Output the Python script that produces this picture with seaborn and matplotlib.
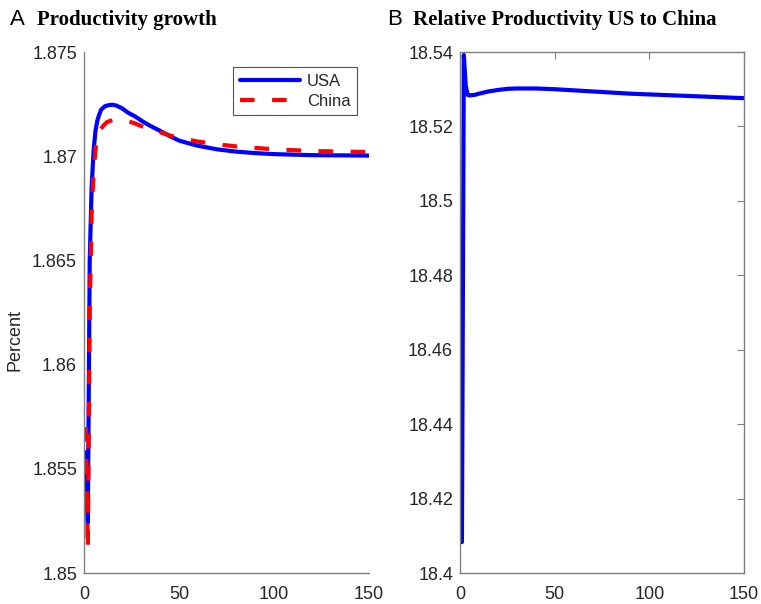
import numpy as np
import pandas as pd
import matplotlib
matplotlib.use("Agg")
import matplotlib.pyplot as plt
import seaborn as sns

# Productivity growth (percent) by period
t_usa = [1, 2, 3, 4, 5, 6, 7, 8, 9, 11, 13, 15, 17, 20, 23, 27, 31, 35, 40, 45,
         50, 55, 60, 70, 80, 90, 100, 120, 150]
usa_growth = [1.8558, 1.8524, 1.8650, 1.8685, 1.8702, 1.8712, 1.8717, 1.8720,
              1.87223, 1.8724, 1.87245, 1.87247, 1.87243, 1.8723, 1.8721,
              1.8719, 1.87166, 1.87145, 1.87122, 1.87097, 1.87075, 1.87062,
              1.8705, 1.87033, 1.87022, 1.87015, 1.8701, 1.87005, 1.87003]

t_china = [1, 2, 3, 4, 5, 6, 7, 8, 10, 12, 15, 18, 22, 26, 30, 35, 40, 45, 50,
           60, 70, 80, 90, 100, 120, 150]
china_growth = [1.8570, 1.8511, 1.8625, 1.8672, 1.8692, 1.8703, 1.8709,
                1.87118, 1.87145, 1.87163, 1.87174, 1.87176, 1.8717, 1.8716,
                1.87145, 1.8713, 1.87115, 1.8710, 1.87088, 1.8707, 1.87057,
                1.87047, 1.8704, 1.87033, 1.87025, 1.8702]

# Relative productivity, US to China
t_rel = [1, 2, 3, 4, 5, 6, 8, 10, 15, 20, 25, 30, 35, 40, 50, 60, 70, 80, 90,
         100, 120, 150]
rel_productivity = [18.4083, 18.5392, 18.5310, 18.5285, 18.5283, 18.5284,
                    18.5285, 18.5288, 18.5294, 18.5298, 18.5301, 18.5302,
                    18.5302, 18.5302, 18.5300, 18.5297, 18.5294, 18.5291,
                    18.5288, 18.5286, 18.5282, 18.5276]

x_ticks = [0, 50, 100, 150]
growth_ticks = [1.85, 1.855, 1.86, 1.865, 1.87, 1.875]
growth_ticklabels = ["1.85", "1.855", "1.86", "1.865", "1.87", "1.875"]
rel_ticks = [18.4, 18.42, 18.44, 18.46, 18.48, 18.5, 18.52, 18.54]
rel_ticklabels = ["18.4", "18.42", "18.44", "18.46", "18.48", "18.5", "18.52", "18.54"]

sns.set_style("white")
plt.rcParams["font.family"] = ["Liberation Sans", "DejaVu Sans"]

BLUE = "#0000ff"
RED = "#ff0000"
AXIS_GRAY = "#808080"
TEXT = "#262626"

fig = plt.figure(figsize=(7.61, 6.04), dpi=100)
axA = fig.add_axes([0.1104, 0.0513, 0.3745, 0.8626])
axB = fig.add_axes([0.6045, 0.0513, 0.3732, 0.8626])

df_usa = pd.DataFrame({"t": t_usa, "v": usa_growth})
df_chn = pd.DataFrame({"t": t_china, "v": china_growth})
df_rel = pd.DataFrame({"t": t_rel, "v": rel_productivity})

sns.lineplot(data=df_usa, x="t", y="v", ax=axA, color=BLUE, lw=3.0, label="USA")
sns.lineplot(data=df_chn, x="t", y="v", ax=axA, color=RED, lw=3.0, label="China",
             linestyle=(0, (3.5, 4.2)), dash_capstyle="butt")
sns.lineplot(data=df_rel, x="t", y="v", ax=axB, color=BLUE, lw=3.0)

for ax in (axA, axB):
    ax.set_xlim(0, 150)
    ax.set_xticks(x_ticks)
    ax.set_xlabel("")
    ax.set_ylabel("")
    for s in ax.spines.values():
        s.set_color(AXIS_GRAY)
        s.set_linewidth(1.0)
    ax.tick_params(direction="in", length=5, width=0.8, color=AXIS_GRAY,
                   labelsize=13, labelcolor=TEXT)
    ax.tick_params(axis="x", pad=9)
    ax.tick_params(axis="y", pad=5)

axA.set_ylim(1.85, 1.875)
axA.set_yticks(growth_ticks)
axA.set_yticklabels(growth_ticklabels)
axA.spines["top"].set_visible(False)
axA.spines["right"].set_visible(False)
axA.set_ylabel("Percent", fontsize=13, color=TEXT)
axA.yaxis.set_label_coords(-0.212, 0.447)

axB.set_ylim(18.4, 18.54)
axB.set_yticks(rel_ticks)
axB.set_yticklabels(rel_ticklabels)
axB.tick_params(top=True, right=True)

leg = axA.legend(loc="upper right", bbox_to_anchor=(0.958, 0.971), fontsize=12,
                 handlelength=3.6, frameon=True, fancybox=False,
                 borderaxespad=0, borderpad=0.4, labelspacing=0.3,
                 handletextpad=0.4)
leg.get_frame().set_edgecolor(TEXT)
leg.get_frame().set_linewidth(0.8)
for txt in leg.get_texts():
    txt.set_color(TEXT)

serif = ["Liberation Serif", "DejaVu Serif"]
fig.text(10 / 761, 1 - 25 / 604, "A", fontsize=16, color="black", va="baseline")
fig.text(37 / 761, 1 - 25 / 604, "Productivity growth", fontsize=15,
         family=serif, color="black", va="baseline", weight="bold")
fig.text(387 / 761, 1 - 25 / 604, "B", fontsize=16, color="black", va="baseline")
fig.text(413 / 761, 1 - 25 / 604, "Relative Productivity US to China", fontsize=15,
         family=serif, color="black", va="baseline", weight="bold")

fig.savefig("out.png", dpi=100)
